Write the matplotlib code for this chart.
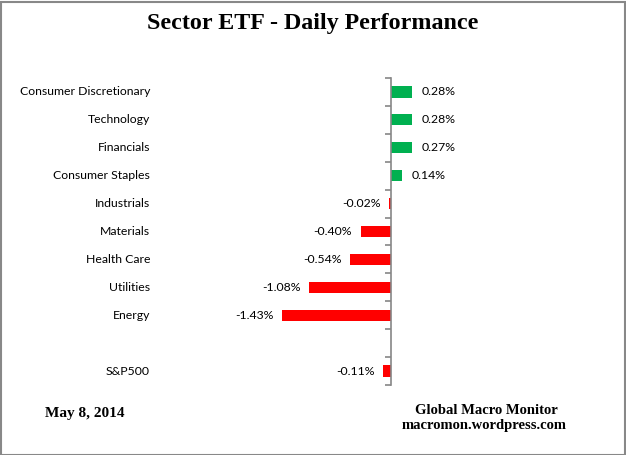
import matplotlib
matplotlib.use('Agg')
import matplotlib.pyplot as plt
import matplotlib.transforms as mtransforms
from matplotlib.patches import Rectangle
import numpy as np

#data (daily % change)
sectors = ['Consumer Discretionary', 'Technology', 'Financials', 'Consumer Staples',
           'Industrials', 'Materials', 'Health Care', 'Utilities', 'Energy', '', 'S&P500']
changes = [0.28, 0.28, 0.27, 0.14, -0.02, -0.40, -0.54, -1.08, -1.43, np.nan, -0.11]

#colours
pos_col = '#00B050'
neg_col = '#FF0000'
axis_col = '#868686'

W, H = 626, 455
fig = plt.figure(figsize=(W / 100, H / 100), dpi=100)

#plot area placed so that zero sits at x~391 px
px_per_pct = 76.2
x0_px = 391
left_px, right_px = 180, 500
top_px, bot_px = 78, 385
ax = fig.add_axes([left_px / W, 1 - bot_px / H, (right_px - left_px) / W, (bot_px - top_px) / H])
ax.set_xlim((left_px - x0_px) / px_per_pct, (right_px - x0_px) / px_per_pct)
ax.set_ylim(len(sectors) - 0.5, -0.5)

y = np.arange(len(sectors))
vals = np.array(changes, dtype=float)
cols = [pos_col if v >= 0 else neg_col for v in np.nan_to_num(vals)]
ax.barh(y, np.nan_to_num(vals), height=0.4, color=cols, zorder=2)

#axis: only a vertical line at zero with ticks on category boundaries
for s in ['top', 'right', 'bottom']:
    ax.spines[s].set_visible(False)
ax.spines['left'].set_position(('data', 0))
ax.spines['left'].set_color(axis_col)
ax.spines['left'].set_linewidth(1.2)
ax.set_xticks([])
ax.set_yticks(np.arange(-0.5, len(sectors), 1.0))
ax.set_yticklabels([])
ax.tick_params(axis='y', direction='out', length=4, color=axis_col, width=1.2)

font = 'Lato'
lab_trans = mtransforms.blended_transform_factory(fig.transFigure, ax.transData)
for yi, name in zip(y, sectors):
    ax.text(150 / W, yi, name, transform=lab_trans, ha='right', va='center',
            fontsize=8.8, family=font, color='black')

for yi, v in zip(y, vals):
    if np.isnan(v):
        continue
    if v >= 0:
        ax.annotate(f'{v:.2f}%', (v, yi), xytext=(7, 0), textcoords='offset points',
                    ha='left', va='center', fontsize=8.8, family=font)
    else:
        ax.annotate(f'{v:.2f}%', (v, yi), xytext=(-6, 0), textcoords='offset points',
                    ha='right', va='center', fontsize=8.8, family=font)

#title and footer
fig.text(313 / W, 1 - 23 / H, 'Sector ETF - Daily Performance', ha='center', va='center',
         fontsize=17.3, fontweight='bold', family='Liberation Serif')
fig.text(45 / W, 1 - 414 / H, 'May 8, 2014', ha='left', va='center',
         fontsize=11, fontweight='bold', family='Liberation Serif')
fig.text(486 / W, 1 - 410 / H, 'Global Macro Monitor', ha='center', va='center',
         fontsize=10.5, fontweight='bold', family='Liberation Serif')
fig.text(484 / W, 1 - 426 / H, 'macromon.wordpress.com', ha='center', va='center',
         fontsize=10.5, fontweight='bold', family='Liberation Serif')

#grey frame round the chart
fig.patches.append(Rectangle((0.5 / W, 0.5 / H), 1 - 2 / W, 1 - 2 / H, transform=fig.transFigure,
                             fill=False, edgecolor='#888888', linewidth=1.5))

fig.savefig('out.png', dpi=100)
